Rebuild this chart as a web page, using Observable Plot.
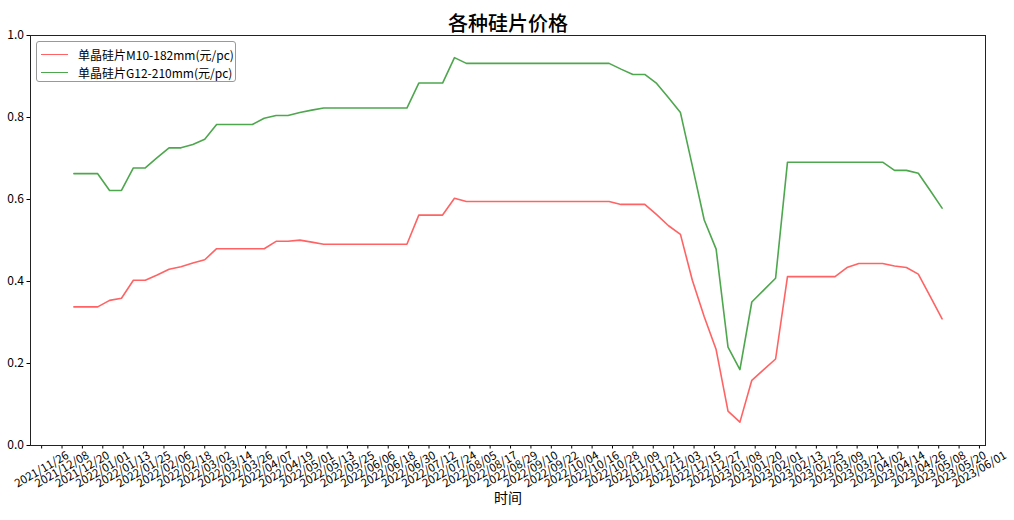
<!DOCTYPE html>
<html>
<head>
<meta charset="utf-8">
<script src="https://cdn.jsdelivr.net/npm/d3@7"></script>
<script src="https://cdn.jsdelivr.net/npm/@observablehq/plot@0.6"></script>
<style>
  html, body { margin: 0; padding: 0; background: #fff; }
  #wrap { position: relative; width: 1014px; height: 520px; font-family: "Noto Sans CJK SC", sans-serif; }
  #title { position: absolute; left: 0; width: 1014px; top: 8px; text-align: center; font-size: 20px; line-height: 30px; color: #000; padding-left: 1px; font-weight: 500; }
  #legend { position: absolute; left: 36px; top: 41px; width: 198px; height: 39px; border: 1px solid #999; border-radius: 3px; background: rgba(255,255,255,0.8); }
  .row { position: absolute; left: 4px; height: 18px; display: flex; align-items: center; font-size: 12px; color: #000; white-space: nowrap; }
  .sw { width: 27px; height: 0; border-top: 1.5px solid; margin-right: 10px; }
</style>
</head>
<body>
<div id="wrap">
  <div id="chart"></div>
  <div id="title">各种硅片价格</div>
  <div id="legend"></div>
</div>
<script>
// ---- data ----
const dates = [
  "2021-12-15","2021-12-22","2021-12-29",
  "2022-01-05","2022-01-12","2022-01-19","2022-01-26","2022-02-02","2022-02-09","2022-02-16","2022-02-23",
  "2022-03-02","2022-03-09","2022-03-16","2022-03-23","2022-03-30","2022-04-06","2022-04-13","2022-04-20","2022-04-27",
  "2022-05-04","2022-05-11","2022-05-18","2022-05-25","2022-06-01","2022-06-08","2022-06-15","2022-06-22","2022-06-29",
  "2022-07-06","2022-07-13","2022-07-20","2022-07-27","2022-08-03","2022-08-10","2022-08-17","2022-08-24","2022-08-31",
  "2022-09-07","2022-09-14","2022-09-21","2022-09-28","2022-10-05","2022-10-12","2022-10-19","2022-10-26",
  "2022-11-02","2022-11-09","2022-11-16","2022-11-23","2022-11-30","2022-12-07","2022-12-14","2022-12-21","2022-12-28",
  "2023-01-04","2023-01-11","2023-01-18","2023-01-25","2023-02-01","2023-02-08","2023-02-15","2023-02-22",
  "2023-03-01","2023-03-08","2023-03-15","2023-03-22","2023-03-29","2023-04-05","2023-04-12","2023-04-19","2023-04-26",
  "2023-05-03","2023-05-10"
];
const m10 = [
  0.338,0.338,0.338,
  0.354,0.359,0.403,0.403,0.416,0.430,0.436,0.445,
  0.453,0.480,0.480,0.480,0.480,0.480,0.498,0.498,0.501,
  0.496,0.491,0.491,0.491,0.491,0.491,0.491,0.491,0.491,
  0.562,0.562,0.562,0.603,0.595,0.595,0.595,0.595,0.595,
  0.595,0.595,0.595,0.595,0.595,0.595,0.595,0.595,
  0.588,0.588,0.588,0.563,0.536,0.515,0.403,0.314,0.234,
  0.084,0.057,0.159,0.185,0.211,0.412,0.412,0.412,
  0.412,0.412,0.434,0.444,0.444,0.444,0.438,0.434,0.418,
  0.364,0.309
];
const g12 = [
  0.663,0.663,0.663,
  0.622,0.622,0.677,0.677,0.702,0.726,0.726,0.734,
  0.747,0.783,0.783,0.783,0.783,0.798,0.805,0.805,0.812,
  0.818,0.823,0.823,0.823,0.823,0.823,0.823,0.823,0.823,
  0.884,0.884,0.884,0.946,0.932,0.932,0.932,0.932,0.932,
  0.932,0.932,0.932,0.932,0.932,0.932,0.932,0.932,
  0.918,0.905,0.905,0.883,0.848,0.812,0.682,0.550,0.479,
  0.240,0.185,0.350,0.379,0.408,0.691,0.691,0.691,
  0.691,0.691,0.691,0.691,0.691,0.691,0.671,0.671,0.664,
  0.622,0.579
];
const seriesNames = ["单晶硅片M10-182mm(元/pc)", "单晶硅片G12-210mm(元/pc)"];
const seriesColors = ["#ff6363", "#4ea64e"];
const xTickLabels = [
  "2021/11/26","2021/12/08","2021/12/20","2022/01/01","2022/01/13","2022/01/25","2022/02/06","2022/02/18",
  "2022/03/02","2022/03/14","2022/03/26","2022/04/07","2022/04/19","2022/05/01","2022/05/13","2022/05/25",
  "2022/06/06","2022/06/18","2022/06/30","2022/07/12","2022/07/24","2022/08/05","2022/08/17","2022/08/29",
  "2022/09/10","2022/09/22","2022/10/04","2022/10/16","2022/10/28","2022/11/09","2022/11/21","2022/12/03",
  "2022/12/15","2022/12/27","2023/01/08","2023/01/20","2023/02/01","2023/02/13","2023/02/25","2023/03/09",
  "2023/03/21","2023/04/02","2023/04/14","2023/04/26","2023/05/08","2023/05/20","2023/06/01"
];
const yTicks = [0, 0.2, 0.4, 0.6, 0.8, 1.0];

// ---- build ----
const parseD = d3.utcParse("%Y-%m-%d");
const parseT = d3.utcParse("%Y/%m/%d");
const rows = dates.map((d, i) => ({date: parseD(d), m10: m10[i], g12: g12[i]}));
const xTickDates = xTickLabels.map(parseT);
const t0 = rows[0].date, t1 = rows[rows.length - 1].date;
const pad = (t1 - t0) * 0.05;
const xDomain = [new Date(+t0 - pad), new Date(+t1 + pad)];

const font = "Noto Sans CJK SC";
const chart = Plot.plot({
  width: 1014,
  height: 520,
  marginLeft: 30,
  marginRight: 29,
  marginTop: 35,
  marginBottom: 75,
  style: {fontFamily: font, background: "white", color: "#000"},
  x: {type: "utc", domain: xDomain, label: null},
  y: {domain: [0, 1], label: null},
  marks: [
    Plot.axisY({ticks: yTicks, tickFormat: d3.format(".1f"), tickSize: 3.5, tickPadding: 3, fontSize: 12, label: null}),
    Plot.axisX({ticks: xTickDates, tickFormat: () => "", tickSize: 3.5, label: null}),
    Plot.text(xTickDates, {x: d => d, text: (d, i) => xTickLabels[i], frameAnchor: "bottom", dy: 24, rotate: -30,
      textAnchor: "middle", lineAnchor: "middle", fontSize: 11.5, fill: "#000"}),
    Plot.text(["时间"], {text: d => d, frameAnchor: "bottom", dy: 57, fontSize: 14, fill: "#000"}),
    Plot.lineY(rows, {x: "date", y: "m10", stroke: seriesColors[0], strokeWidth: 1.6}),
    Plot.lineY(rows, {x: "date", y: "g12", stroke: seriesColors[1], strokeWidth: 1.6}),
    Plot.frame({stroke: "#222", strokeWidth: 1})
  ]
});
document.getElementById("chart").appendChild(chart);

const legend = document.getElementById("legend");
seriesNames.forEach((name, i) => {
  const row = document.createElement("div");
  row.className = "row";
  row.style.top = (3 + i * 18) + "px";
  const sw = document.createElement("span");
  sw.className = "sw";
  sw.style.borderTopColor = seriesColors[i];
  const label = document.createElement("span");
  label.textContent = name;
  row.appendChild(sw);
  row.appendChild(label);
  legend.appendChild(row);
});
</script>
</body>
</html>
